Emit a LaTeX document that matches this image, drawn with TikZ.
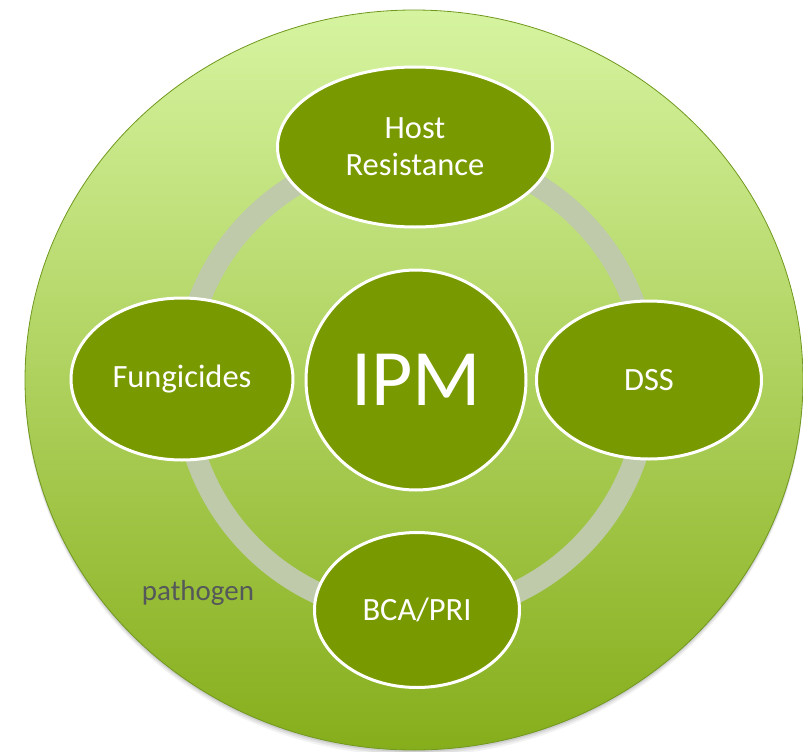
\documentclass[tikz,border=0pt]{standalone}
\usepackage{fontspec}
\setmainfont{Carlito}
\usetikzlibrary{shapes.geometric}
\definecolor{bigtop}{RGB}{214,244,160}
\definecolor{bigbot}{RGB}{134,174,27}
\definecolor{bigline}{RGB}{112,152,30}
\definecolor{nodefill}{RGB}{121,153,0}
\definecolor{ringcol}{RGB}{190,202,170}
\definecolor{pathtxt}{RGB}{85,88,90}
\tikzset{
  bubble/.style={ellipse, fill=nodefill, draw=white, line width=3pt, inner sep=0pt,
    text=white, font=\fontsize{32.5}{37}\selectfont, align=center},
}
\begin{document}
\begin{tikzpicture}[x=1pt,y=-1pt]
\useasboundingbox (0,0) rectangle (803,752);
% soft shadow
\foreach \o/\a in {6/0.05,4/0.07,2/0.09}{
  \fill[black,opacity=\a] (414,380+\o) ellipse [x radius=389pt, y radius=370pt];
}
\shade[top color=bigtop, bottom color=bigbot] (414,380) ellipse [x radius=389pt, y radius=370pt];
\draw[bigline, line width=0.8pt] (414,380) ellipse [x radius=389pt, y radius=370pt];
% ring
\draw[ringcol, line width=22pt] (416,383) circle [radius=232pt];
% nodes
\node[bubble, minimum width=275pt, minimum height=160pt] (host) at (415,147) {Host\\Resistance};
\node[bubble, minimum width=222pt, minimum height=162pt] (fung) at (182,379) {Fungicides};
\node[bubble, minimum width=225pt, minimum height=158pt] (dss) at (649,380) {DSS};
\node[bubble, minimum width=205pt, minimum height=155pt] (bca) at (417,610) {BCA/PRI};
\node[bubble, circle, minimum size=220pt, font=\fontsize{80}{90}\selectfont] (ipm) at (416,380) {IPM};
\node[text=pathtxt, font=\fontsize{29}{34}\selectfont] (path) at (198,593) {pathogen};
\end{tikzpicture}
\end{document}
